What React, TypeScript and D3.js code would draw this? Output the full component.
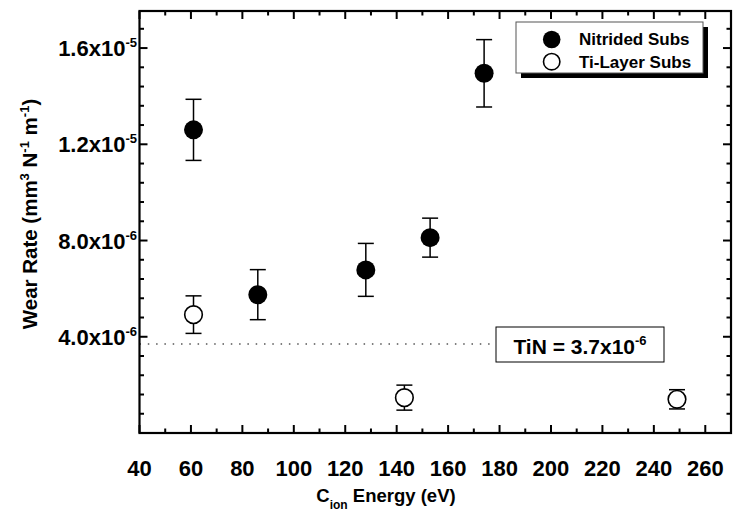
import React from "react";
import * as d3 from "d3";

// Nitrided substrates (filled circles)
const nitridedEnergy = [61, 86, 128, 153, 174];
const nitridedRate = [12.6e-6, 5.75e-6, 6.78e-6, 8.12e-6, 14.95e-6];
const nitridedErr = [1.27e-6, 1.04e-6, 1.1e-6, 0.81e-6, 1.4e-6];

// Ti-layer substrates (open circles)
const tiEnergy = [61, 143, 249];
const tiRate = [4.92e-6, 1.47e-6, 1.4e-6];
const tiErr = [0.78e-6, 0.52e-6, 0.4e-6];

const tinRate = 3.7e-6;

const xMajor = [40, 60, 80, 100, 120, 140, 160, 180, 200, 220, 240, 260];
const xMinor = [50, 70, 90, 110, 130, 150, 170, 190, 210, 230, 250];
const yMajor = [4e-6, 8e-6, 1.2e-5, 1.6e-5];
const yMantissa = ["4.0", "8.0", "1.2", "1.6"];
const yExp = ["-6", "-6", "-5", "-5"];
const yMinor = d3.range(1, 22).map(i => i * 0.8e-6).filter(v => v < 17.5e-6 && Math.abs((v / 4e-6) - Math.round(v / 4e-6)) > 1e-6);

const W = 733, H = 513;
const left = 139.5, right = 731, top = 11, bottom = 433;
const font = "'Liberation Sans', Arial, Helvetica, sans-serif";

export default function App() {
  const x = d3.scaleLinear().domain([40, 270]).range([left, right]);
  const y = d3.scaleLinear().domain([0, 17.54e-6]).range([bottom, top]);

  const nitrided = nitridedEnergy.map((e, i) => ({ x: e, y: nitridedRate[i], err: nitridedErr[i] }));
  const ti = tiEnergy.map((e, i) => ({ x: e, y: tiRate[i], err: tiErr[i] }));

  const errBar = (d, i, key) => (
    <g key={key + i} stroke="#000" strokeWidth={1.5}>
      <line x1={x(d.x)} x2={x(d.x)} y1={y(d.y + d.err)} y2={y(d.y - d.err)} />
      <line x1={x(d.x) - 8} x2={x(d.x) + 8} y1={y(d.y + d.err)} y2={y(d.y + d.err)} />
      <line x1={x(d.x) - 8} x2={x(d.x) + 8} y1={y(d.y - d.err)} y2={y(d.y - d.err)} />
    </g>
  );

  return (
    <div style={{ position: "fixed", left: 0, top: 0 }}>
      <svg width={W} height={H} style={{ display: "block", background: "#fff" }} fontFamily={font} fontWeight="bold">
        {/* dotted TiN reference line */}
        <line x1={left} x2={496} y1={y(tinRate)} y2={y(tinRate)} stroke="#000" strokeWidth={1.2} strokeDasharray="1.5,6.8" />
        <rect x={496} y={327} width={168} height={35} fill="#fff" stroke="#000" strokeWidth={1} />
        <text x={580} y={354} fontSize={21} textAnchor="middle">
          TiN = 3.7x10<tspan dy={-9} fontSize={13}>-6</tspan>
        </text>

        {/* ticks */}
        <g stroke="#000" strokeWidth={2}>
          {xMajor.map(v => (
            <g key={"xm" + v}>
              <line x1={x(v)} x2={x(v)} y1={bottom} y2={bottom - 8} />
              <line x1={x(v)} x2={x(v)} y1={top} y2={top + 8} />
            </g>
          ))}
          {xMinor.map(v => (
            <g key={"xn" + v}>
              <line x1={x(v)} x2={x(v)} y1={bottom} y2={bottom - 4.5} />
              <line x1={x(v)} x2={x(v)} y1={top} y2={top + 4.5} />
            </g>
          ))}
          {yMajor.map(v => (
            <g key={"ym" + v}>
              <line x1={left} x2={left + 8} y1={y(v)} y2={y(v)} />
              <line x1={right} x2={right - 8} y1={y(v)} y2={y(v)} />
            </g>
          ))}
          {yMinor.map(v => (
            <g key={"yn" + v}>
              <line x1={left} x2={left + 4.5} y1={y(v)} y2={y(v)} />
              <line x1={right} x2={right - 4.5} y1={y(v)} y2={y(v)} />
            </g>
          ))}
        </g>
        <rect x={left} y={top} width={right - left} height={bottom - top} fill="none" stroke="#000" strokeWidth={2.2} />

        {/* tick labels */}
        {xMajor.map(v => (
          <text key={"xl" + v} x={x(v)} y={476} fontSize={22} textAnchor="middle">{v}</text>
        ))}
        {yMajor.map((v, i) => (
          <text key={"yl" + v} x={137} y={y(v) + 8} fontSize={22} textAnchor="end">
            {yMantissa[i]}x10<tspan dy={-9} fontSize={13}>{yExp[i]}</tspan>
          </text>
        ))}

        {/* axis titles */}
        <text x={386} y={502} fontSize={18.5} textAnchor="middle">
          C<tspan dy={7} fontSize={12}>ion</tspan><tspan dy={-7}> Energy (eV)</tspan>
        </text>
        <text transform={`translate(37,${(top + bottom) / 2 - 8}) rotate(-90)`} fontSize={20.5} textAnchor="middle">
          Wear Rate (mm<tspan dy={-8} fontSize={13}>3</tspan>
          <tspan dy={8}> N</tspan><tspan dy={-8} fontSize={13}>-1</tspan>
          <tspan dy={8}> m</tspan><tspan dy={-8} fontSize={13}>-1</tspan>
          <tspan dy={8}>)</tspan>
        </text>

        {/* error bars and markers */}
        {nitrided.map((d, i) => errBar(d, i, "ne"))}
        {ti.map((d, i) => errBar(d, i, "te"))}
        {nitrided.map((d, i) => (
          <circle key={"nc" + i} cx={x(d.x)} cy={y(d.y)} r={9.5} fill="#000" />
        ))}
        {ti.map((d, i) => (
          <circle key={"tc" + i} cx={x(d.x)} cy={y(d.y)} r={8.8} fill="#fff" stroke="#000" strokeWidth={1.6} />
        ))}

        {/* legend */}
        <rect x={521} y={27} width={187} height={51} fill="#000" />
        <rect x={516} y={22} width={187} height={51} fill="#fff" stroke="#555" strokeWidth={1} />
        <circle cx={551.7} cy={39.5} r={8.8} fill="#000" />
        <circle cx={551.7} cy={61.7} r={8.2} fill="#fff" stroke="#000" strokeWidth={1.6} />
        <text x={579} y={45} fontSize={17}>Nitrided Subs</text>
        <text x={579} y={68} fontSize={17}>Ti-Layer Subs</text>
      </svg>
    </div>
  );
}
